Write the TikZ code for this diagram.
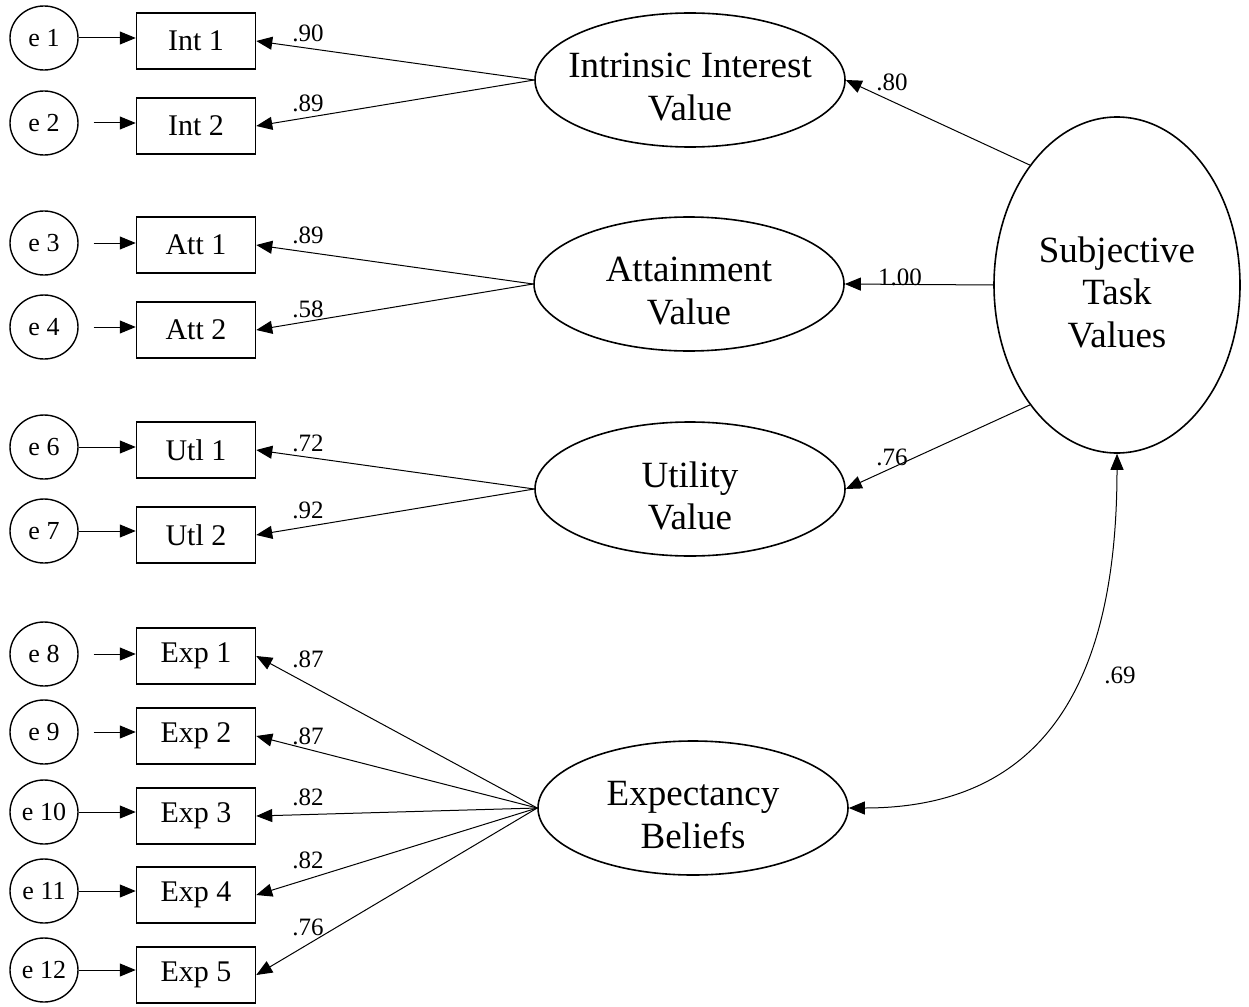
\documentclass[tikz,border=0pt]{standalone}
\usepackage{fontspec}
\setmainfont{Liberation Serif}
\usetikzlibrary{arrows.meta,shapes.geometric}
\definecolor{ink}{RGB}{0,0,0}
\def\ex{44}
\def\bx{196}
\def\cx{308}

\begin{document}
\begin{tikzpicture}[x=1pt, y=-1pt,
  semtip/.tip={Triangle[length=16pt, width=13pt]},
  obs/.style={draw=ink, line width=1.5pt, minimum width=119pt, minimum height=56pt, inner sep=0pt, font=\fontsize{30}{36}\selectfont},
  err/.style={draw=ink, ellipse, line width=1.4pt, minimum width=68pt, minimum height=64pt, inner sep=0pt, font=\fontsize{26}{30}\selectfont},
  lat/.style={draw=ink, ellipse, line width=1.6pt, minimum width=310pt, minimum height=134pt},
  lattext/.style={align=center, inner sep=0pt, yshift=-7pt, font=\fontsize{37}{42.5}\selectfont},
  ld/.style={draw=ink, line width=1pt, -semtip},
  coef/.style={anchor=base, inner sep=0pt, font=\fontsize{25}{30}\selectfont}]
\useasboundingbox (0,0) rectangle (1249,1006);
% first-order factors and the second-order one
\node[lat, label={[lattext]center:{Intrinsic Interest\\Value}}] (il) at (690,80) {};
\node[lat, label={[lattext]center:{Attainment\\Value}}] (al) at (689,284) {};
\node[lat, label={[lattext]center:{Utility\\Value}}] (ul) at (690,489) {};
\node[lat, label={[lattext]center:{Expectancy\\Beliefs}}] (xl) at (693,808) {};
\node[lat, minimum width=246pt, minimum height=336pt, label={[lattext]center:{Subjective\\Task\\Values}}] (stv) at (1117,285) {};
% indicators with their error terms: error / box / text / error y / box y / gap before arrow
\foreach \en/\bn/\txt/\ey/\by/\gap in {
  1/i1/Int 1/38/41/0pt, 2/i2/Int 2/123/126/15pt, 3/a1/Att 1/243/245/15pt, 4/a2/Att 2/327/330/15pt,
  6/u1/Utl 1/447/450/0pt, 7/u2/Utl 2/531/535/0pt, 8/x1/Exp 1/654/656/15pt, 9/x2/Exp 2/732/736/15pt,
  10/x3/Exp 3/812/816/0pt, 11/x4/Exp 4/891/895/0pt, 12/x5/Exp 5/970/975/0pt%
} {
  \node[obs] (\bn) at (\bx,\by) {\txt};
  \node[err] (e\en) at (\ex,\ey) {e \en};
  \draw[ld, shorten <=\gap] (e\en.east) -- (e\en.east -| \bn.west);
}
% loadings: factor / indicator / value / label baseline
\foreach \lat/\bn/\val/\vy [count=\r] in {
  il/i1/.90/42, il/i2/.89/112, al/a1/.89/243, al/a2/.58/317, ul/u1/.72/451, ul/u2/.92/518,
  xl/x1/.87/667, xl/x2/.87/744, xl/x3/.82/805, xl/x4/.82/868, xl/x5/.76/935%
} {
  \draw[ld] (\lat.west) -- (\bn.east);
  \node[coef] (c\r) at (\cx,\vy) {\val};
}
% second-order paths and the correlation
\draw[ld] (stv.126) -- (il.east);
\draw[ld] (stv.west) -- (al.east);
\draw[ld] (stv.234) -- (ul.east);
\draw[ld, semtip-semtip] (stv.south) to[out=-90, in=0, looseness=1.2] (xl.east);
\node[coef] (c12) at (892,91) {.80};
\node[coef] (c13) at (900,285) {1.00};
\node[coef] (c14) at (892,465) {.76};
\node[coef] (c15) at (1120,683) {.69};
\end{tikzpicture}
\end{document}
